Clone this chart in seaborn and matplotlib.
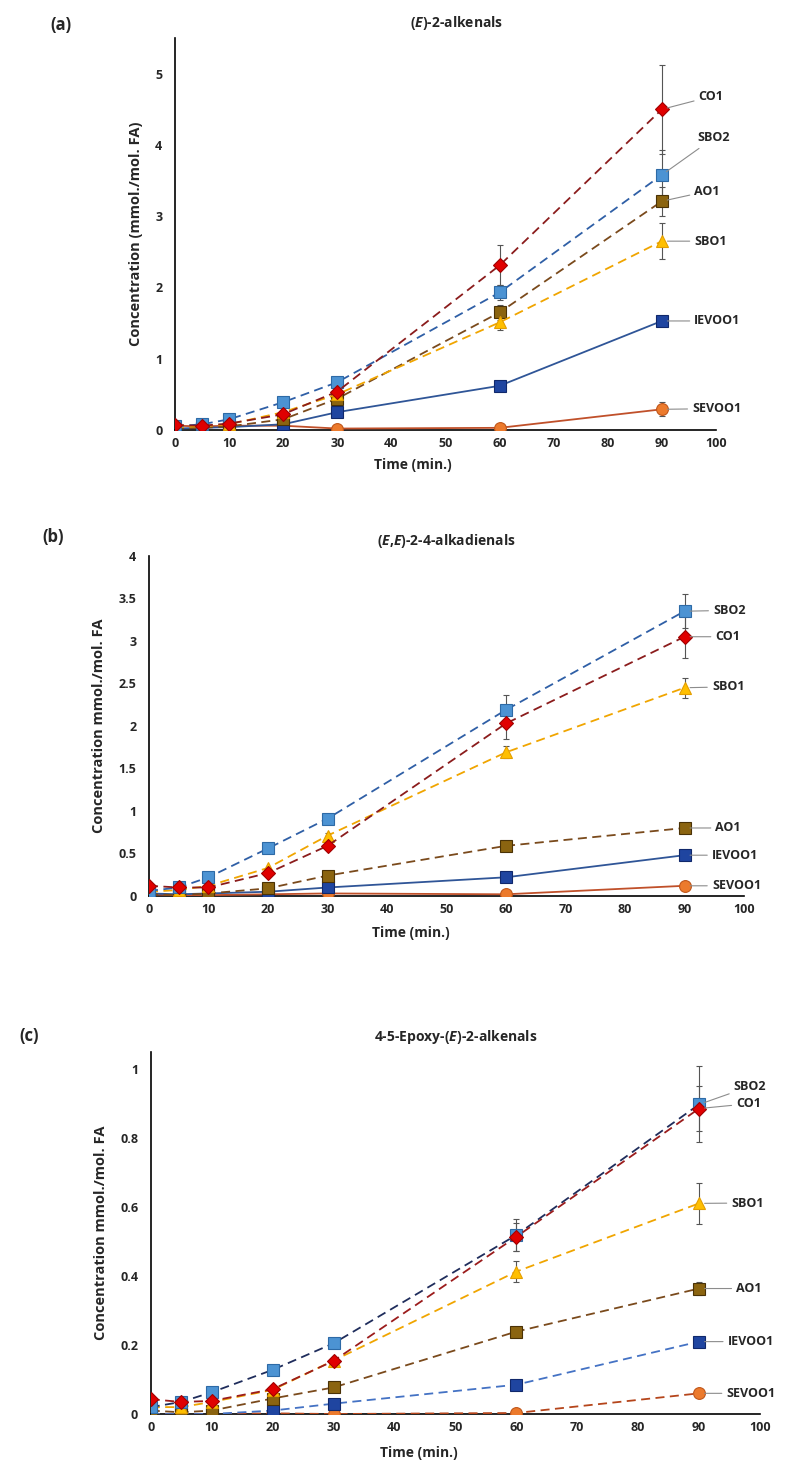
import numpy as np
import pandas as pd
import matplotlib
matplotlib.use("Agg")
import matplotlib.pyplot as plt
import seaborn as sns
from matplotlib.ticker import FuncFormatter, MultipleLocator

sns.set_style("white")
plt.rcParams["font.family"] = ["Open Sans", "DejaVu Sans"]
plt.rcParams["mathtext.fontset"] = "custom"
plt.rcParams["mathtext.it"] = "Open Sans:italic:bold"
plt.rcParams["mathtext.rm"] = "Open Sans:bold"

# ---- data ----
time_min = [0, 5, 10, 20, 30, 60, 90]
oils = ["SEVOO1", "IEVOO1", "AO1", "SBO1", "SBO2", "CO1"]

# (a) (E)-2-alkenals
a_CO1 = [0.07, 0.06, 0.09, 0.22, 0.54, 2.31, 4.50]
a_SBO2 = [0.05, 0.08, 0.15, 0.39, 0.67, 1.93, 3.58]
a_AO1 = [0.02, 0.03, 0.05, 0.15, 0.44, 1.65, 3.21]
a_SBO1 = [0.04, 0.05, 0.08, 0.25, 0.50, 1.51, 2.65]
a_IEVOO1 = [0.02, 0.03, 0.04, 0.08, 0.25, 0.62, 1.53]
a_SEVOO1 = [0.06, 0.05, 0.06, 0.06, 0.02, 0.03, 0.29]
a_err_CO1 = [0, 0, 0, 0, 0.05, 0.28, 0.62]
a_err_SBO2 = [0, 0, 0, 0, 0.03, 0.10, 0.35]
a_err_AO1 = [0, 0, 0, 0, 0.03, 0.10, 0.20]
a_err_SBO1 = [0, 0, 0, 0, 0.03, 0.10, 0.25]
a_err_IEVOO1 = [0, 0, 0, 0, 0.02, 0.03, 0.05]
a_err_SEVOO1 = [0, 0, 0, 0, 0, 0.01, 0.10]

# (b) (E,E)-2-4-alkadienals
b_CO1 = [0.12, 0.10, 0.10, 0.27, 0.59, 2.03, 3.05]
b_SBO2 = [0.06, 0.10, 0.22, 0.56, 0.91, 2.19, 3.35]
b_SBO1 = [0.05, 0.07, 0.12, 0.33, 0.71, 1.69, 2.45]
b_AO1 = [0.02, 0.01, 0.03, 0.09, 0.24, 0.59, 0.80]
b_IEVOO1 = [0.03, 0.02, 0.03, 0.05, 0.10, 0.22, 0.48]
b_SEVOO1 = [0.02, 0.01, 0.01, 0.02, 0.03, 0.02, 0.12]
b_err_CO1 = [0, 0, 0, 0, 0.03, 0.18, 0.25]
b_err_SBO2 = [0, 0, 0, 0, 0.03, 0.17, 0.20]
b_err_SBO1 = [0, 0, 0, 0, 0.03, 0.07, 0.12]
b_err_AO1 = [0, 0, 0, 0, 0.01, 0.02, 0.03]
b_err_IEVOO1 = [0, 0, 0, 0, 0, 0.01, 0.02]
b_err_SEVOO1 = [0, 0, 0, 0, 0, 0, 0.01]

# (c) 4-5-Epoxy-(E)-2-alkenals
c_SBO2 = [0.02, 0.035, 0.063, 0.128, 0.205, 0.519, 0.898]
c_CO1 = [0.043, 0.035, 0.038, 0.072, 0.154, 0.514, 0.886]
c_SBO1 = [0.02, 0.02, 0.035, 0.07, 0.155, 0.413, 0.611]
c_AO1 = [0.01, 0.005, 0.01, 0.045, 0.077, 0.239, 0.364]
c_IEVOO1 = [0.0, 0.0, 0.0, 0.01, 0.03, 0.085, 0.21]
c_SEVOO1 = [0.0, 0.0, 0.0, 0.002, 0.0, 0.003, 0.06]
c_err_SBO2 = [0, 0, 0, 0, 0.005, 0.047, 0.11]
c_err_CO1 = [0, 0, 0, 0, 0.005, 0.04, 0.065]
c_err_SBO1 = [0, 0, 0, 0, 0.005, 0.03, 0.06]
c_err_AO1 = [0, 0, 0, 0, 0, 0.01, 0.02]
c_err_IEVOO1 = [0, 0, 0, 0, 0, 0, 0]
c_err_SEVOO1 = [0, 0, 0, 0, 0, 0, 0.005]

panels = {
    "a": {
        "vals": {"CO1": a_CO1, "SBO2": a_SBO2, "AO1": a_AO1, "SBO1": a_SBO1, "IEVOO1": a_IEVOO1, "SEVOO1": a_SEVOO1},
        "errs": {"CO1": a_err_CO1, "SBO2": a_err_SBO2, "AO1": a_err_AO1, "SBO1": a_err_SBO1, "IEVOO1": a_err_IEVOO1, "SEVOO1": a_err_SEVOO1},
    },
    "b": {
        "vals": {"CO1": b_CO1, "SBO2": b_SBO2, "AO1": b_AO1, "SBO1": b_SBO1, "IEVOO1": b_IEVOO1, "SEVOO1": b_SEVOO1},
        "errs": {"CO1": b_err_CO1, "SBO2": b_err_SBO2, "AO1": b_err_AO1, "SBO1": b_err_SBO1, "IEVOO1": b_err_IEVOO1, "SEVOO1": b_err_SEVOO1},
    },
    "c": {
        "vals": {"CO1": c_CO1, "SBO2": c_SBO2, "AO1": c_AO1, "SBO1": c_SBO1, "IEVOO1": c_IEVOO1, "SEVOO1": c_SEVOO1},
        "errs": {"CO1": c_err_CO1, "SBO2": c_err_SBO2, "AO1": c_err_AO1, "SBO1": c_err_SBO1, "IEVOO1": c_err_IEVOO1, "SEVOO1": c_err_SEVOO1},
    },
}

# ---- styles ----
DASH = (0, (5, 3))
markers = {
    "CO1": dict(marker="D", markersize=7.5, markerfacecolor="#E00000", markeredgecolor="#A00000"),
    "SBO2": dict(marker="s", markersize=8.5, markerfacecolor="#4C93D3", markeredgecolor="#2D6AA6"),
    "AO1": dict(marker="s", markersize=8.5, markerfacecolor="#8B6410", markeredgecolor="#4A3206"),
    "SBO1": dict(marker="^", markersize=9, markerfacecolor="#FFBF00", markeredgecolor="#E39E00"),
    "IEVOO1": dict(marker="s", markersize=8.5, markerfacecolor="#1F45A0", markeredgecolor="#10286B"),
    "SEVOO1": dict(marker="o", markersize=8.5, markerfacecolor="#EC7A2C", markeredgecolor="#C0561A"),
}
lines_ab = {
    "CO1": ("#8B1C1C", DASH), "SBO2": ("#2F5FA6", DASH), "AO1": ("#7A4A1C", DASH),
    "SBO1": ("#F0A500", DASH), "IEVOO1": ("#2F5597", "-"), "SEVOO1": ("#C0502A", "-"),
}
lines_c = {
    "CO1": ("#9B1C1C", DASH), "SBO2": ("#1F2D5C", DASH), "AO1": ("#7A4A1C", DASH),
    "SBO1": ("#F0A500", DASH), "IEVOO1": ("#4472C4", DASH), "SEVOO1": ("#B5451B", DASH),
}

layout = {
    "a": dict(rect=[0.2215, 0.7065, 0.6848, 0.2675], ylim=5.5, ystep=1,
              ylabel="Concentration (mmol./mol. FA)",
              title=r"($\it{E}$)-2-alkenals", letter="(a)", letter_xy=(-0.23, 1.033),
              title_x=0.52,
              lab={"CO1": (96.8, 4.68), "SBO2": (96.6, 4.10), "AO1": (96.0, 3.35),
                   "SBO1": (96.0, 2.65), "IEVOO1": (96.0, 1.53), "SEVOO1": (95.6, 0.30)}),
    "b": dict(rect=[0.1886, 0.3884, 0.7532, 0.2321], ylim=4.0, ystep=0.5,
              ylabel="Concentration mmol./mol. FA",
              title=r"($\it{E}$,$\it{E}$)-2-4-alkadienals", letter="(b)", letter_xy=(-0.18, 1.055),
              title_x=0.50,
              lab={"SBO2": (94.8, 3.36), "CO1": (95.2, 3.05), "SBO1": (94.6, 2.46),
                   "AO1": (95.2, 0.80), "IEVOO1": (94.6, 0.48), "SEVOO1": (94.6, 0.12)}),
    "c": dict(rect=[0.1908, 0.0348, 0.7712, 0.2471], ylim=1.05, ystep=0.2,
              ylabel="Concentration mmol./mol. FA",
              title=r"4-5-Epoxy-($\it{E}$)-2-alkenals", letter="(c)", letter_xy=(-0.215, 1.045),
              title_x=0.50,
              lab={"SBO2": (95.7, 0.95), "CO1": (96.1, 0.90), "SBO1": (95.3, 0.612),
                   "AO1": (96.1, 0.364), "IEVOO1": (94.7, 0.21), "SEVOO1": (94.5, 0.06)}),
}

fig = plt.figure(figsize=(7.9, 14.65), dpi=100)
fmt = FuncFormatter(lambda v, p: f"{v:g}")

for key in ["a", "b", "c"]:
    lay = layout[key]
    ax = fig.add_axes(lay["rect"])
    line_styles = lines_c if key == "c" else lines_ab
    for z, oil in enumerate(oils):
        y = panels[key]["vals"][oil]
        e = np.array(panels[key]["errs"][oil])
        color, ls = line_styles[oil]
        df = pd.DataFrame({"t": time_min, "v": y})
        sns.lineplot(data=df, x="t", y="v", ax=ax, color=color, linestyle=ls, lw=1.3,
                     markeredgewidth=0.8, errorbar=None, legend=False, zorder=3 + z,
                     **markers[oil])
        m = e > 0
        if m.any():
            ax.errorbar(np.array(time_min)[m], np.array(y)[m], yerr=e[m], fmt="none",
                        ecolor="#555555", elinewidth=0.8, capsize=2.5, capthick=0.8, zorder=2)
        ax.annotate(oil, xy=(90, y[-1]), xytext=lay["lab"][oil], textcoords="data",
                    ha="left", va="center", fontsize=9, fontweight="bold",
                    arrowprops=dict(arrowstyle="-", color="#8C8C8C", lw=0.8,
                                    shrinkA=1, shrinkB=4), zorder=20)

    ax.set_xlim(0, 100)
    ax.set_ylim(0, lay["ylim"])
    ax.xaxis.set_major_locator(MultipleLocator(10))
    ax.yaxis.set_major_locator(MultipleLocator(lay["ystep"]))
    ax.yaxis.set_major_formatter(fmt)
    for s in ["top", "right"]:
        ax.spines[s].set_visible(False)
    for s in ["left", "bottom"]:
        ax.spines[s].set_color("black")
        ax.spines[s].set_linewidth(1.2)
    ax.tick_params(axis="both", length=0, labelsize=9)
    ax.tick_params(axis="y", pad=9)
    ax.tick_params(axis="x", pad=5)
    for lbl in ax.get_xticklabels() + ax.get_yticklabels():
        lbl.set_fontweight("bold")
    ax.set_xlabel("Time (min.)", fontsize=10, fontweight="bold", labelpad=0)
    ax.xaxis.set_label_coords(0.44, -0.072 if key == "a" else -0.088)
    ax.set_ylabel(lay["ylabel"], fontsize=10.5, fontweight="bold", labelpad=9)
    ax.set_title(lay["title"], fontsize=10, fontweight="bold", pad=8, x=lay["title_x"])
    ax.text(lay["letter_xy"][0], lay["letter_xy"][1], lay["letter"], transform=ax.transAxes,
            fontsize=12, fontweight="bold", va="center")

fig.savefig("out.png", dpi=100)
